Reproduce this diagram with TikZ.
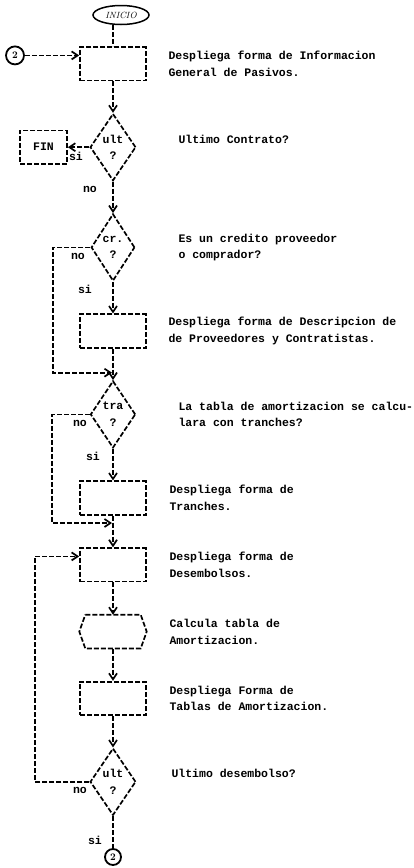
\documentclass[tikz,border=0pt]{standalone}
\usepackage{fontspec}
\setmonofont{Liberation Mono}
\usetikzlibrary{shapes.geometric,arrows.meta}

\newcommand{\letra}{\ttfamily\bfseries\fontsize{11.5}{16.7}\selectfont}

\begin{document}
\begin{tikzpicture}[x=1pt,y=-1pt,
    linea/.style={line width=1.7pt,dash pattern=on 5pt off 2pt},
    flecha/.style={linea,-{Straight Barb[length=6pt,width=8pt]}},
    caja/.style={draw,linea,minimum width=66pt,minimum height=33.4pt,inner sep=0pt,font=\letra},
    decision/.style={draw,linea,diamond,minimum width=38pt,minimum height=67pt,inner sep=0pt,align=center,font=\letra},
    texto/.style={anchor=west,align=left,font=\letra},
    rama/.style={font=\letra},
    conector/.style={draw,circle,line width=1.8pt,inner sep=0pt,font=\bfseries}]
    \useasboundingbox (0,0) rectangle (413,868);

    % Inicio
    \node[draw,ellipse,line width=1.5pt,minimum width=56pt,minimum height=19pt,inner sep=0pt,font=\itshape\small] (inicio) at (121,15) {INICIO};

    % Informacion general de pasivos
    \node[caja] (b1) at (113,63.8) {};
    \node[texto] (t1) at (165,63.8) {Despliega forma de Informacion\\General de Pasivos.};
    \node[conector,minimum size=18pt] (c1) at (15,55.4) {2};
    \draw[linea] (b1.north |- inicio.south) -- (b1.north);
    \draw[flecha] (c1.east) -- (c1.east -| b1.west);

    % Ultimo contrato
    \node[decision] (d1) at (113,147.2) {ult\\?};
    \node[caja,minimum width=47pt] (fin) at (43.5,147.2) {FIN};
    \node[texto] (t2) at (175,138.9) {Ultimo Contrato?};
    \draw[flecha] (b1) -- (d1);
    \draw[flecha] (d1) -- (fin);
    \node[rama] (si1) at (76,156) {si};
    \node[rama] (no1) at (90,189) {no};

    % Credito proveedor o comprador
    \node[decision] (d2) at (113,247.4) {cr.\\?};
    \node[texto] (t3) at (175,247.4) {Es un credito proveedor\\o comprador?};
    \draw[flecha] (d1) -- (d2);
    \node[caja] (b2) at (113,331) {};
    \node[texto] (t4) at (165,331) {Despliega forma de Descripcion de\\de Proveedores y Contratistas.};
    \draw[flecha] (d2) -- (b2);
    \node[rama] (no2) at (78,256) {no};
    \node[rama] (si2) at (85,289.2) {si};
    \coordinate (k1) at (53,372.7);
    \coordinate (j1) at (112,372.7);
    \draw[flecha] (d2.west) -| (k1) -- (j1);

    % Tranches
    \node[decision] (d3) at (113,414.4) {tra\\?};
    \node[texto] (t5) at (175,414.4) {La tabla de amortizacion se calcu-\\lara con tranches?};
    \draw[flecha] (b2) -- (d3);
    \node[caja] (b3) at (113,498) {};
    \node[texto] (t6) at (166,498) {Despliega forma de\\Tranches.};
    \draw[flecha] (d3) -- (b3);
    \node[rama] (no3) at (80,423) {no};
    \node[rama] (si3) at (93,456.2) {si};
    \coordinate (k2) at (52,523);
    \coordinate (j2) at (112,523);
    \draw[flecha] (d3.west) -| (k2) -- (j2);

    % Desembolsos
    \node[caja] (b4) at (113,564.8) {};
    \node[texto] (t7) at (166,564.8) {Despliega forma de\\Desembolsos.};
    \draw[flecha] (b3) -- (b4);
    \node[minimum width=67pt,minimum height=33.4pt,inner sep=0pt] (calc) at (113,631.6) {};
    \draw[linea] ([xshift=6pt]calc.north west) -- ([xshift=-6pt]calc.north east) -- (calc.east)
        -- ([xshift=-6pt]calc.south east) -- ([xshift=6pt]calc.south west) -- (calc.west) -- cycle;
    \node[texto] (t8) at (166,631.6) {Calcula tabla de\\Amortizacion.};
    \draw[flecha] (b4) -- (calc);
    \node[caja] (b5) at (113,698.4) {};
    \node[texto] (t9) at (166,698.4) {Despliega Forma de\\Tablas de Amortizacion.};
    \draw[flecha] (calc) -- (b5);

    % Ultimo desembolso
    \node[decision] (d4) at (113,781.8) {ult\\?};
    \node[texto] (t10) at (168,773.5) {Ultimo desembolso?};
    \draw[flecha] (b5) -- (d4);
    \node[rama] (no4) at (80,790) {no};
    \node[rama] (si4) at (95,840.3) {si};
    \node[conector,minimum size=16pt] (c2) at (113,857) {2};
    \coordinate (k3) at (35,556.4);
    \draw[flecha] (d4.west) -| (k3) -- (k3 -| b4.west);
    \draw[linea] (d4.south) -- (c2.north);
\end{tikzpicture}
\end{document}
